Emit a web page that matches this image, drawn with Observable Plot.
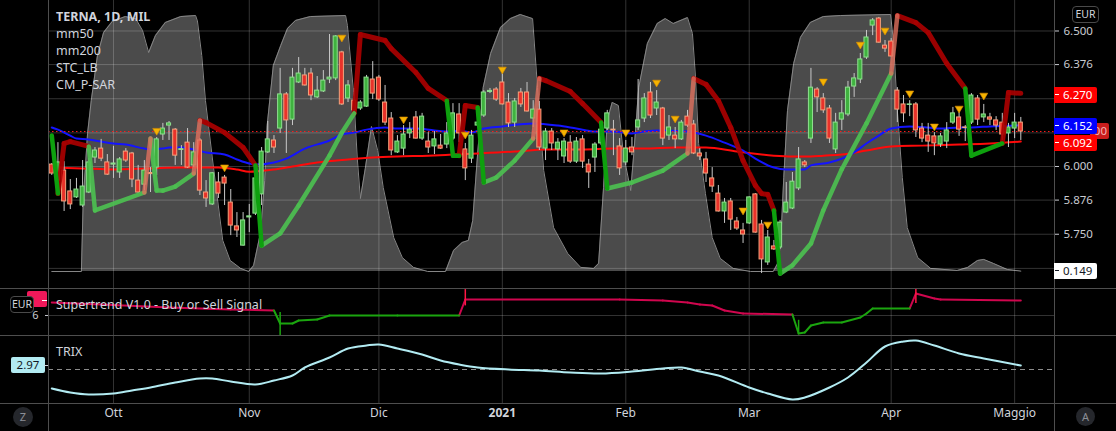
<!DOCTYPE html>
<html>
<head>
<meta charset="utf-8">
<script src="https://cdn.jsdelivr.net/npm/d3@7"></script>
<script src="https://cdn.jsdelivr.net/npm/@observablehq/plot@0.6"></script>
<style>
  html, body { margin:0; padding:0; background:#000; }
  #chart { position:relative; width:1116px; height:431px; background:#000; overflow:hidden; font-family:"Noto Sans","Open Sans",sans-serif; }
  #chart svg { position:absolute; left:0; }
</style>
</head>
<body>
<div id="chart"></div>
<script>
// ---------------- DATA ----------------
const legendLines = ["TERNA, 1D, MIL", "mm50", "mm200", "STC_LB", "CM_P-SAR"];
const paneTitles = ["Supertrend V1.0 - Buy or Sell Signal", "TRIX"];
const currency = "EUR";
const monthIdx = [10, 32, 53, 73, 93, 113, 136, 156];
const monthLabels = ["Ott", "Nov", "Dic", "2021", "Feb", "Mar", "Apr", "Maggio"];
const gridTicks = [6.5, 6.376, 6.25, 6.124, 6.0, 5.876, 5.75, 5.624];
const labelTicks = [6.5, 6.376, 6.0, 5.876, 5.75];   // the others are covered by value badges
const lastPriceLabelVisible = "00";                  // last-price badge, mostly hidden behind 6.152

const open = [6.007,5.948,5.985,5.908,5.886,5.856,5.904,6.033,6.066,6.015,6.007,5.978,6.055,6.048,5.948,5.933,5.976,5.996,6.118,6.151,
6.136,6.061,6.088,6.004,6.096,5.904,5.860,5.941,5.959,5.867,5.779,5.708,5.812,5.826,5.897,6.052,6.096,6.140,6.266,6.173,
6.310,6.336,6.343,6.255,6.277,6.321,6.325,6.421,6.251,6.243,6.214,6.221,6.321,6.328,6.236,6.177,6.052,6.066,6.122,6.181,
6.103,6.092,6.074,6.077,6.081,6.103,6.192,6.063,6.029,6.151,6.188,6.275,6.284,6.310,6.236,6.162,6.273,6.273,6.177,6.210,
6.066,6.129,6.063,6.037,6.088,6.018,6.100,6.007,6.033,6.085,6.140,6.136,6.074,6.015,6.070,6.144,6.177,6.273,6.214,6.214,
6.114,6.114,6.100,6.184,6.155,6.048,6.026,5.956,5.900,5.834,5.871,5.797,5.764,5.790,5.897,5.786,5.646,5.705,5.701,5.830,
5.845,5.919,6.015,6.103,6.284,6.251,6.214,6.063,6.173,6.192,6.295,6.321,6.402,6.520,6.546,6.446,6.461,6.280,6.229,6.227,
6.229,6.140,6.114,6.111,6.081,6.092,6.162,6.181,6.144,6.162,6.251,6.181,6.181,6.170,6.162,6.122,6.140,6.162];
const high = [6.011,6.088,6.018,5.952,5.956,6.022,6.029,6.070,6.100,6.044,6.074,6.033,6.066,6.052,6.004,6.022,5.996,6.107,6.159,6.166,
6.140,6.077,6.140,6.088,6.103,5.948,5.978,5.978,5.967,5.915,5.830,5.830,5.860,5.993,6.070,6.166,6.114,6.362,6.273,6.362,
6.402,6.362,6.362,6.332,6.354,6.487,6.483,6.425,6.317,6.288,6.243,6.336,6.387,6.336,6.299,6.199,6.114,6.151,6.162,6.203,
6.196,6.125,6.129,6.118,6.162,6.232,6.232,6.085,6.133,6.207,6.280,6.288,6.291,6.343,6.269,6.251,6.288,6.310,6.243,6.240,
6.140,6.140,6.103,6.103,6.114,6.107,6.114,6.026,6.088,6.151,6.207,6.170,6.103,6.096,6.107,6.321,6.269,6.310,6.280,6.218,
6.188,6.144,6.170,6.207,6.170,6.066,6.052,5.996,5.930,5.882,5.882,5.812,5.790,5.888,5.900,5.801,5.764,5.727,5.801,5.941,
5.978,6.070,6.022,6.362,6.291,6.269,6.225,6.196,6.243,6.314,6.343,6.417,6.502,6.546,6.550,6.465,6.472,6.291,6.262,6.243,
6.236,6.159,6.159,6.125,6.122,6.162,6.218,6.199,6.151,6.269,6.262,6.229,6.196,6.184,6.196,6.159,6.196,6.181];
const low = [5.967,5.930,5.834,5.841,5.882,5.849,5.900,6.011,6.018,5.967,5.956,5.956,6.015,5.922,5.900,5.911,5.904,5.967,6.096,6.096,
6.004,6.004,5.993,5.996,5.893,5.849,5.856,5.882,5.856,5.745,5.738,5.706,5.756,5.819,5.856,6.048,6.048,6.122,6.048,6.151,
6.306,6.297,6.243,6.251,6.273,6.306,6.317,6.225,6.236,6.188,6.207,6.218,6.247,6.240,6.151,6.040,6.048,6.040,6.103,6.101,
6.096,6.048,6.044,6.063,6.066,6.096,6.088,5.948,6.011,6.144,6.181,6.269,6.240,6.227,6.144,6.144,6.218,6.201,6.144,6.059,
6.022,6.059,6.022,6.011,6.011,6.011,5.993,5.919,5.978,6.077,6.133,6.040,5.967,6.004,6.040,6.133,6.162,6.177,6.188,6.077,
6.096,6.066,6.096,6.144,6.044,6.022,5.941,5.904,5.832,5.790,5.764,5.764,5.716,5.786,5.754,5.605,5.635,5.690,5.694,5.826,
5.841,5.911,5.996,6.085,6.199,6.196,6.085,6.048,6.133,6.184,6.255,6.306,6.395,6.483,6.455,6.421,6.404,6.162,6.162,6.184,
6.107,6.088,6.052,6.040,6.070,6.066,6.155,6.111,6.092,6.155,6.151,6.162,6.151,6.133,6.096,6.070,6.103,6.096];
const close = [5.974,6.015,5.871,5.860,5.915,5.926,6.015,6.059,6.029,5.970,6.011,6.026,6.022,5.952,5.904,5.985,5.972,6.100,6.140,6.159,
6.040,6.064,5.996,6.052,5.911,5.882,5.975,5.900,5.937,5.782,5.764,5.801,5.816,5.956,6.055,6.100,6.070,6.266,6.170,6.328,
6.343,6.299,6.262,6.280,6.317,6.328,6.480,6.229,6.299,6.207,6.236,6.328,6.269,6.247,6.162,6.059,6.092,6.118,6.136,6.103,
6.184,6.070,6.100,6.066,6.122,6.196,6.122,5.993,6.114,6.162,6.273,6.279,6.247,6.229,6.159,6.240,6.229,6.203,6.210,6.070,
6.129,6.085,6.088,6.092,6.018,6.092,6.018,5.978,6.081,6.136,6.196,6.133,5.993,6.066,6.052,6.170,6.251,6.188,6.236,6.103,
6.144,6.100,6.162,6.151,6.048,6.037,5.974,5.926,5.834,5.867,5.804,5.771,5.749,5.886,5.756,5.657,5.738,5.694,5.793,5.867,
5.944,6.026,6.004,6.291,6.255,6.207,6.103,6.162,6.196,6.291,6.325,6.395,6.476,6.539,6.457,6.435,6.406,6.210,6.196,6.229,
6.133,6.103,6.092,6.085,6.111,6.133,6.196,6.136,6.142,6.262,6.173,6.192,6.173,6.151,6.118,6.144,6.162,6.129];

const ma50Idx = [0,1,3,4,6,8,10,12,15,16,18,19,21,23,25,28,30,32,33,36,38,41,45,47,49,51,54,56,59,62,65,66,68,70,73,78,82,85,88,91,94,96,98,103,106,109,112,114,117,119,122,123,126,128,130,132,134,136,139,142,144,147,149,152,157];
const ma50Val = [6.144,6.136,6.114,6.103,6.100,6.092,6.085,6.081,6.066,6.063,6.066,6.070,6.070,6.063,6.052,6.044,6.026,6.011,6.007,6.015,6.029,6.066,6.096,6.118,6.125,6.136,6.144,6.140,6.140,6.133,6.129,6.133,6.125,6.140,6.148,6.159,6.151,6.140,6.129,6.129,6.122,6.129,6.133,6.129,6.114,6.088,6.059,6.029,5.996,5.989,5.989,6.004,6.015,6.029,6.052,6.085,6.114,6.140,6.148,6.144,6.140,6.144,6.144,6.148,6.152];
const ma200Idx = [0,5,10,16,21,27,30,32,36,39,43,48,52,56,61,65,69,75,80,86,91,96,101,106,111,117,120,123,125,128,132,136,141,147,152,157];
const ma200Val = [5.996,5.993,5.989,5.993,5.996,5.996,5.989,5.981,5.989,6.000,6.015,6.026,6.033,6.037,6.040,6.044,6.048,6.055,6.063,6.063,6.066,6.066,6.070,6.070,6.055,6.040,6.037,6.037,6.040,6.044,6.059,6.074,6.077,6.081,6.085,6.092];

const stcIdx = [0,4.8,5.1,5.8,6.4,7.4,8.4,9.8,11.9,13.6,14.7,15.7,16.8,18.4,20.9,23.3,23.6,24.3,24.9,26.2,27.7,28.9,30.6,31.9,32.7,33.8,34.5,34.9,35.9,37.1,38.2,39.5,41.9,47.6,47.9,48.9,49.5,50.0,50.8,51.8,52.8,53.7,55.4,56.8,58.6,60.9,63.8,65.1,66.5,67.5,68.2,69.0,69.9,71.1,72.7,74.3,75.9,77.9,78.7,79.7,81.3,83.6,85.7,87.8,88.6,89.4,90.0,90.8,91.8,92.6,93.8,94.3,95.1,96.5,98.1,99.4,100.7,103.0,103.8,104.3,104.8,105.9,107.0,108.3,110.4,113.2,116.9,117.6,118.1,118.6,119.2,120.2,121.3,122.9,125.0,127.8,135.9,136.4,137.0,137.8,138.6,140.3,142.4,146.7,148.4,150.0,151.0,152.6,154.8,157];
const stcVal = [0,0,27.6,53.7,66.5,84.0,93.0,97.3,99.2,98.4,93.8,85.2,91.8,96.9,99.2,99.6,97.5,84.0,66.5,40.5,12.1,4.3,1.2,0,2.3,14.8,35.4,56.8,80.2,87.9,94.6,97.7,99.2,99.6,95.7,69.6,44.0,28.4,40.1,56.4,47.1,32.7,13.2,5.4,1.6,0,0,8.2,11.3,12.1,19.8,45.9,71.6,84.8,94.9,98.4,100,98.4,71.6,39.3,17.1,7.0,1.6,1.2,3.1,32.7,58.8,65.8,64.6,45.9,31.5,45.9,71.6,88.7,96.5,98.4,96.5,98.8,92.6,75.5,49.8,30.4,13.2,5.1,1.2,0,0,3.1,10.9,36.6,62.6,80.9,91.1,96.9,99.2,99.6,100,88.7,62.6,36.6,17.1,5.4,1.2,0.4,1.6,4.3,4.7,3.1,0.8,0.149];

// Parabolic SAR: R = above price, G = below, V = flip to below, S = flip to above
const sarIdx = [0,1,2,3,6,7,15,16,17,18,20,23,24,25,28,31,33,34,37,40,45,47,49,50,54,55,59,61,64,65,66,67,69,70,72,75,78,79,80,84,86,89,90,94,99,103,104,106,108,110,112,114,115,116,117,118,120,123,125,128,132,136,137,140,142,145,148,149,154,155,157];
const sarPrice = [6.114,5.900,6.085,6.092,6.074,5.838,5.904,6.103,5.911,5.911,5.926,5.974,6.170,6.162,6.125,6.070,6.004,5.708,5.753,5.856,6.040,6.125,6.196,6.487,6.465,6.435,6.347,6.288,6.243,6.040,6.040,6.225,6.218,5.941,5.959,6.022,6.103,6.325,6.317,6.277,6.232,6.162,5.919,5.941,5.985,6.048,6.325,6.303,6.243,6.144,6.022,5.930,5.900,5.897,5.838,5.605,5.635,5.716,5.838,5.990,6.159,6.343,6.557,6.531,6.494,6.380,6.288,6.040,6.085,6.273,6.270];
const sarCol = ["-","V","R","R","R","G","G","S","G","G","G","G","S","R","R","R","R","V","G","G","G","G","G","R","R","R","R","R","R","V","V","R","R","V","G","G","G","S","R","R","R","R","V","G","G","G","S","R","R","R","R","R","R","R","R","V","G","G","G","G","G","G","S","R","R","R","R","V","V","R","R"];

const triIdx = [17,28,47,57,67,73,83,93,98,101,112,116,125,131,135,139,143,147,151];
const triPrice = [6.128,5.993,6.472,6.170,6.114,6.354,6.122,6.122,6.306,6.173,5.834,5.782,6.310,6.446,6.498,6.266,6.144,6.210,6.258];

// Supertrend
const stIdx = [0,8,19,29,36,37,39,40,43,45,56,66,67,92,99,103,105,107,109,112,120,121,122,123,125,128,131,132,133,139,140,143,144,157];
const stVal = [6.271,6.229,6.167,6.125,6.104,5.833,5.833,5.896,5.917,6.000,6.000,6.000,6.333,6.333,6.313,6.271,6.229,6.208,6.104,6.042,6.021,5.625,5.646,5.792,5.854,5.854,5.958,6.042,6.146,6.146,6.458,6.354,6.333,6.313];
const stCol = ["-","R","R","R","R","G","G","G","G","G","G","G","R","R","R","R","R","R","R","R","R","G","G","G","G","G","G","G","G","G","R","R","R","R"];
const stSigIdx = [37, 67, 121, 140];
const stSigHi = [6.06, 6.54, 5.90, 6.54];
const stSigLo = [5.583, 6.20, 5.625, 6.25];
const stSigType = ["buy", "sell", "buy", "sell"];

// TRIX
const trixIdx = [0,3,6,10,13,16,20,24,26,29,33,36,39,41,45,48,51,53,56,60,63,66,69,74,79,84,89,94,99,102,105,108,113,116,120,122,126,129,132,135,138,140,143,147,151,157];
const trixVal = [-14.25,-17.25,-18.75,-18.0,-15.75,-13.5,-9.75,-6.75,-6.75,-9.0,-11.25,-8.25,-4.5,1.5,9.0,15.75,18.0,18.75,15.75,11.25,6.75,3.75,1.5,0,-0.75,-2.25,-3.0,-1.5,0.75,1.5,-1.5,-4.5,-13.5,-18.0,-22.5,-21.0,-13.5,-6.0,5.25,17.25,21.0,21.75,18.0,12.0,8.25,2.97];

// ---------------- BUILD ----------------
const chart = document.getElementById("chart");
const W = 1116, ML = 48, MR = 62;
const xDomain = [-0.53, 162.46];
const GRID = "rgba(255,255,255,0.2)";
const SEP = "#4e4e4e";
const baseStyle = {background: "transparent", fontFamily: "'Noto Sans', sans-serif", fontSize: "11.5px", color: "#c9cbd1", overflow: "visible"};

const candles = open.map((o, i) => ({i, o, h: high[i], l: low[i], c: close[i]}));
function segments(idx, val, col) {
  const s = [];
  for (let k = 1; k < idx.length; k++) s.push({x1: idx[k-1], y1: val[k-1], x2: idx[k], y2: val[k], c: col[k]});
  return s;
}
const sarSegs = segments(sarIdx, sarPrice, sarCol);
const stSegs = segments(stIdx, stVal, stCol);
const ma50 = ma50Idx.map((i, k) => ({i, v: ma50Val[k]}));
const ma200 = ma200Idx.map((i, k) => ({i, v: ma200Val[k]}));
const stc = stcIdx.map((i, k) => ({i, v: stcVal[k]}));
const tris = triIdx.map((i, k) => ({i, p: triPrice[k]}));
const stSig = stSigIdx.map((i, k) => ({i, hi: stSigHi[k], lo: stSigLo[k], t: stSigType[k]}));
const trix = trixIdx.map((i, k) => ({i, v: trixVal[k]}));
const months = monthIdx.map((i, k) => ({i, t: monthLabels[k]}));

const triDown = {draw(ctx, size) { const s = Math.sqrt(size / Math.PI); ctx.moveTo(-s, -s*0.85); ctx.lineTo(s, -s*0.85); ctx.lineTo(0, s*0.85); ctx.closePath(); }};
const linkOpts = {x1: "x1", y1: "y1", x2: "x2", y2: "y2", strokeLinecap: "round"};

// STC layer (beneath)
const stcPlot = Plot.plot({
  width: W, height: 288, marginLeft: ML, marginRight: MR, marginTop: 0, marginBottom: 0,
  x: {domain: xDomain, axis: null}, y: {domain: [-6.61, 105.45], axis: null},
  style: baseStyle,
  marks: [
    Plot.areaY(stc, {x: "i", y: "v", fill: "#4b4b4b"}),
    Plot.line(stc, {x: "i", y: "v", stroke: "#858585", strokeWidth: 1})
  ]
});

// Main price layer
const mainPlot = Plot.plot({
  width: W, height: 288, marginLeft: ML, marginRight: MR, marginTop: 0, marginBottom: 0,
  x: {domain: xDomain, axis: null}, y: {domain: [5.5498, 6.6125], label: null},
  color: {type: "identity"},
  style: baseStyle,
  marks: [
    Plot.ruleY(gridTicks, {stroke: GRID}),
    Plot.ruleX(monthIdx, {stroke: GRID}),
    Plot.line(ma200, {x: "i", y: "v", stroke: "#ff0a0a", strokeWidth: 2, curve: "monotone-x"}),
    Plot.line(ma50, {x: "i", y: "v", stroke: "#1414ff", strokeWidth: 2, curve: "monotone-x"}),
    Plot.ruleY([close[close.length - 1]], {stroke: "#ff1a1a", strokeDasharray: "1.5,2.5"}),
    Plot.ruleX(candles, {x: "i", y1: "l", y2: "h", stroke: "#c8c8c8", strokeWidth: 1}),
    Plot.rect(candles, {x1: d => d.i - 0.33, x2: d => d.i + 0.33, y1: "o", y2: "c",
      fill: d => d.c >= d.o ? "#3fb23f" : "#e8322a",
      stroke: d => d.c >= d.o ? "#8fe08f" : "#f5a27c", strokeWidth: 1}),
    Plot.link(sarSegs.filter(d => d.c === "R"), {...linkOpts, stroke: "#a80000", strokeWidth: 5, strokeOpacity: 0.92}),
    Plot.link(sarSegs.filter(d => d.c === "G"), {...linkOpts, stroke: "#4cbf50", strokeWidth: 4.5, strokeOpacity: 0.92}),
    Plot.link(sarSegs.filter(d => d.c === "S"), {...linkOpts, stroke: "#e0705e", strokeWidth: 4.5, strokeOpacity: 0.8}),
    Plot.link(sarSegs.filter(d => d.c === "V"), {...linkOpts, stroke: "#0ea00e", strokeWidth: 4.5}),
    Plot.dot(tris, {x: "i", y: "p", symbol: triDown, r: 4, fill: "#f5b300", stroke: "#d98c00", strokeWidth: 0.6}),
    Plot.axisY(gridTicks, {anchor: "right", tickSize: 4, tickPadding: 5, tickFormat: () => "", label: null}),
    Plot.axisY(labelTicks, {anchor: "right", tickSize: 0, tickPadding: 9, tickFormat: d3.format(".3f"), label: null, fontSize: 11.5})
  ]
});

// Supertrend pane
const stPlot = Plot.plot({
  width: W, height: 47, marginLeft: ML, marginRight: MR, marginTop: 0, marginBottom: 0,
  x: {domain: xDomain, axis: null}, y: {domain: [5.5833, 6.5625], label: null},
  style: baseStyle,
  marks: [
    Plot.ruleY([6], {stroke: GRID}),
    Plot.ruleX(monthIdx, {stroke: GRID}),
    Plot.link(stSegs.filter(d => d.c === "R"), {...linkOpts, stroke: "#d0064e", strokeWidth: 2}),
    Plot.link(stSegs.filter(d => d.c === "G"), {...linkOpts, stroke: "#1ba50f", strokeWidth: 2}),
    Plot.ruleX(stSig.filter(d => d.t === "buy"), {x: "i", y1: "lo", y2: "hi", stroke: "#1ba50f", strokeWidth: 1.5}),
    Plot.ruleX(stSig.filter(d => d.t === "sell"), {x: "i", y1: "lo", y2: "hi", stroke: "#ff1744", strokeWidth: 1.5}),
    Plot.axisY([6], {anchor: "left", tickSize: 3, tickPadding: 7, tickFormat: d => String(d), label: null, fontSize: 11})
  ]
});

// TRIX pane + time axis
const trixPlot = Plot.plot({
  width: W, height: 96, marginLeft: ML, marginRight: MR, marginTop: 0, marginBottom: 28,
  x: {domain: xDomain, axis: null}, y: {domain: [-25.5, 25.5], axis: null},
  style: baseStyle,
  marks: [
    Plot.ruleX(monthIdx, {stroke: GRID}),
    Plot.ruleY([0], {stroke: "#8c8c8c", strokeDasharray: "5,4"}),
    Plot.line(trix, {x: "i", y: "v", stroke: "#b2ebf2", strokeWidth: 2, curve: "catmull-rom"}),
    Plot.text(months.filter(d => d.t !== "2021"), {x: "i", text: "t", frameAnchor: "bottom", dy: 13, fill: "#d1d4dc", fontSize: 12}),
    Plot.text(months.filter(d => d.t === "2021"), {x: "i", text: "t", frameAnchor: "bottom", dy: 13, fill: "#d1d4dc", fontSize: 12, fontWeight: "bold"})
  ]
});

stcPlot.style.top = "0px"; chart.appendChild(stcPlot);
mainPlot.style.top = "0px"; chart.appendChild(mainPlot);
stPlot.style.top = "288px"; chart.appendChild(stPlot);
trixPlot.style.top = "335px"; chart.appendChild(trixPlot);

// ---------------- OVERLAYS ----------------
function el(css, html) {
  const d = document.createElement("div");
  d.style.cssText = "position:absolute;" + css;
  if (html !== undefined) d.innerHTML = html;
  chart.appendChild(d);
  return d;
}
// separators & axis borders
[288, 335, 403].forEach(y => el(`left:0;top:${y}px;width:${W}px;height:1px;background:${SEP};`));
[48, 1054].forEach(x => el(`left:${x}px;top:0;width:1px;height:431px;background:${SEP};`));

// legend
legendLines.forEach((t, k) => {
  el(`left:56px;top:${17 + 17*k - 9}px;height:18px;line-height:18px;font-size:12.5px;color:#d1d4dc;white-space:nowrap;${k === 0 ? "font-weight:bold;" : ""}`, t);
});
el(`left:56px;top:296px;height:18px;line-height:18px;font-size:12.5px;color:#d1d4dc;white-space:nowrap;`, paneTitles[0]);
el(`left:56px;top:343px;height:18px;line-height:18px;font-size:12.5px;color:#d1d4dc;white-space:nowrap;`, paneTitles[1]);

// price badges
function badge(yc, left, width, bg, fg, text) {
  const d = el(`left:${left}px;top:${Math.round(yc - 8)}px;width:${width}px;height:16px;background:${bg};color:${fg};font-size:11.5px;line-height:16px;border-radius:0 2px 2px 0;white-space:nowrap;`);
  const s = document.createElement("div");
  s.style.cssText = `position:absolute;left:1px;top:7px;width:4px;height:1px;background:${fg};`;
  d.appendChild(s);
  const t = document.createElement("div");
  t.style.cssText = `position:absolute;left:9px;top:0;`;
  t.textContent = text;
  d.appendChild(t);
  return d;
}
const yMain = mainPlot.scale("y");
const yStc = stcPlot.scale("y");
const ySt = stPlot.scale("y");
const yTrix = trixPlot.scale("y");
const f3 = d3.format(".3f");

// last price badge, only its right end shows past the 6.152 badge
el(`left:1090px;top:${Math.round(yMain.apply(close[close.length-1]) - 8)}px;width:19px;height:16px;background:#c91d1d;color:#f3b3b3;font-size:11.5px;line-height:16px;border-radius:0 2px 2px 0;text-align:right;padding-right:2px;box-sizing:border-box;`, lastPriceLabelVisible);
badge(yMain.apply(sarPrice[sarPrice.length-1]) + 2, 1054, 43, "#ff0000", "#ffffff", f3(sarPrice[sarPrice.length-1]));
badge(yMain.apply(ma50Val[ma50Val.length-1]) + 1.5, 1054, 43, "#0000ff", "#ffffff", f3(ma50Val[ma50Val.length-1]));
badge(yMain.apply(ma200Val[ma200Val.length-1]) + 2, 1054, 43, "#ff0000", "#ffffff", f3(ma200Val[ma200Val.length-1]));
badge(yStc.apply(stcVal[stcVal.length-1]) + 0.5, 1054, 43, "#ffffff", "#131722", f3(stcVal[stcVal.length-1]));

// currency boxes
el(`left:1072px;top:6px;width:25px;height:15px;border:1px solid #4a4a4a;border-radius:4px;color:#d1d4dc;font-size:10.5px;line-height:15px;text-align:center;background:#000;`, currency);
el(`left:27px;top:${Math.round(288 + ySt.apply(stVal[stVal.length-1]) - 9)}px;width:20px;height:16px;background:#f0185a;border-radius:2px;`);
el(`left:42px;top:${Math.round(288 + ySt.apply(stVal[stVal.length-1]))}px;width:5px;height:1px;background:#fff;`);
el(`left:10px;top:296px;width:22px;height:15px;border:1px solid #4a4a4a;border-radius:4px;color:#d1d4dc;font-size:10.5px;line-height:15px;text-align:center;background:#000;`, currency);

// TRIX value badge on the left
const ty = 335 + yTrix.apply(trixVal[trixVal.length-1]);
el(`left:11px;top:${Math.round(ty - 8)}px;width:34px;height:16px;background:#b2ebf2;color:#131722;border-radius:2px;font-size:11.5px;line-height:16px;text-align:center;`, d3.format(".2f")(trixVal[trixVal.length-1]));
el(`left:44px;top:${Math.round(ty)}px;width:4px;height:1px;background:#d1d4dc;`);

// round buttons
el(`left:13px;top:407px;width:20px;height:20px;border-radius:50%;background:#25272c;color:#8b8e96;font-size:11px;line-height:20px;text-align:center;`, "Z");
el(`left:1076px;top:407px;width:19px;height:19px;border-radius:50%;background:#25272c;color:#8b8e96;font-size:11px;line-height:19px;text-align:center;`, "A");
</script>
</body>
</html>
